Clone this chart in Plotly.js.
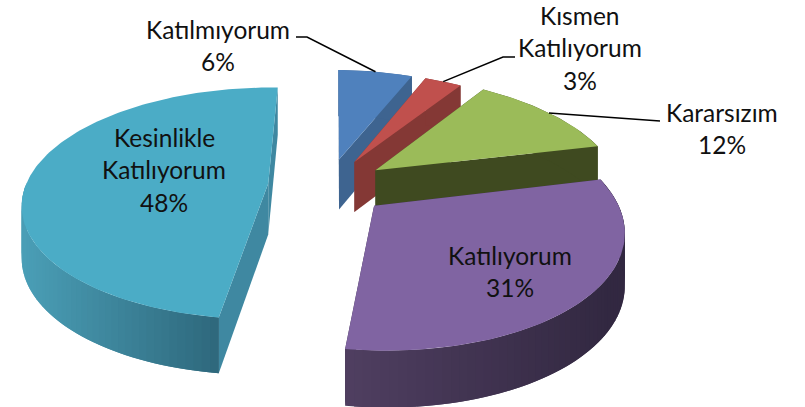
<!DOCTYPE html>
<html><head><meta charset="utf-8">
<script src="https://cdn.plot.ly/plotly-3.0.1.min.js"></script>
<style>html,body{margin:0;padding:0;background:#fff;overflow:hidden}#c{width:805px;height:407px}</style>
</head><body><div id="c"></div>
<script>
// data
const categories = ["Katılmıyorum","Kısmen Katılıyorum","Kararsızım","Katılıyorum","Kesinlikle Katılıyorum"];
const values = [6,3,12,31,48];
const topColors = ["#4F81BD","#C0504D","#9BBB59","#8064A2","#4BACC6"];
const wallColors = ["#3E6490","#843835","#3F4A20","#3A2E48","#3F88A1"];
const labelLines = [["Katılmıyorum"],["Kısmen","Katılıyorum"],["Kararsızım"],["Katılıyorum"],["Kesinlikle","Katılıyorum"]];

// view of the tilted pie plane
const view = {A:240,B:1,C:2.5,D:-113,p:0.004,q:0.17,cx:328,cy:186,explode:0.25,depth:51};
const rimScale = [1,1,1.035,1,1];
const labelPos = [[218,29],[580,15],[722,112],[510,255],[164,137]];
const lineStep = 32.5;
const elbows = [[[296,37],[307,37]],[[515,57],[503,57]],[[660,121]],null,null];
const wallShade = {3:{x0:342,x1:610,c0:[80,63,97],c1:[50,40,65]},4:{x0:25,x1:218,c0:[74,158,182],c1:[46,104,124]}};

const total = values.reduce((a,b)=>a+b,0);
let acc = 0;
const spans = values.map(v=>{const s=acc/total*2*Math.PI; acc+=v; return [s,acc/total*2*Math.PI];});

function project(i,theta,r,low){
  const b=(spans[i][0]+spans[i][1])/2, V=view, R=r*rimScale[i];
  const u=V.explode*Math.sin(b)+R*Math.sin(theta), v=V.explode*Math.cos(b)+R*Math.cos(theta);
  const w=1+V.p*u+V.q*v;
  return [V.cx+(V.A*u+V.B*v)/w, V.cy+(V.C*u+V.D*v)/w+(low?V.depth/Math.sqrt(w):0)];
}
function poly(pts,color){
  return {type:"scatter",mode:"lines",x:pts.map(p=>p[0]),y:pts.map(p=>p[1]),fill:"toself",fillcolor:color,
    line:{color:color,width:0},hoverinfo:"skip",showlegend:false};
}
function arc(i,t0,t1,low,n){
  const out=[]; for(let k=0;k<=n;k++) out.push(project(i,t0+(t1-t0)*k/n,1,low)); return out;
}
const traces=[];
[0,1,2,4,3].forEach(i=>{
  const [s,e]=spans[i];
  // radial walls
  [s,e].forEach(t=>{
    traces.push(poly([project(i,t,0,false),project(i,t,1,false),project(i,t,1,true),project(i,t,0,true)],wallColors[i]));
  });
  // rim wall: shaded front part, painted as overlapping bands so no seams show
  const shade=wallShade[i];
  const n=Math.max(4,Math.round((e-s)/0.03));
  if(shade){
    const colorAt=t=>{
      const x=project(i,t,1,false)[0];
      const f=Math.max(0,Math.min(1,(x-shade.x0)/(shade.x1-shade.x0)));
      return "rgb("+shade.c0.map((c,j)=>Math.round(c+(shade.c1[j]-c)*f)).join(",")+")";
    };
    const order=[]; for(let k=n-1;k>=0;k--) order.push(k);
    order.forEach(k=>{
      const a=s+(e-s)*k/n, b=s+(e-s)*(k+1)/n, a2=Math.max(s,a-(e-s)/n);
      const mid=(a+b)/2;
      if(i===4 && mid>1.5*Math.PI) return;
      traces.push(poly(arc(i,a2,b,false,2).concat(arc(i,b,a2,true,2)),colorAt(mid)));
    });
  } else {
    traces.push(poly(arc(i,s,e,false,n).concat(arc(i,e,s,true,n)),wallColors[i]));
  }
  // top surface
  const m=Math.max(6,Math.round((e-s)/0.02));
  traces.push(poly([project(i,0,0,false)].concat(arc(i,s,e,false,m)),topColors[i]));
});
// leader lines
elbows.forEach((el,i)=>{
  if(!el) return;
  const end=project(i,(spans[i][0]+spans[i][1])/2,1,false);
  const pts=el.concat([end]);
  traces.push({type:"scatter",mode:"lines",x:pts.map(p=>p[0]),y:pts.map(p=>p[1]),
    line:{color:"#000",width:1.5},hoverinfo:"skip",showlegend:false});
});
// labels
const annotations=[];
labelLines.forEach((lines,i)=>{
  lines.concat([Math.round(values[i]/total*100)+"%"]).forEach((t,k)=>{
    annotations.push({x:labelPos[i][0],y:labelPos[i][1]+k*lineStep,xref:"x",yref:"y",text:t,showarrow:false,
      xanchor:"center",yanchor:"middle",font:{family:"Lato, sans-serif",size:24.5,color:"#111"}});
  });
});
Plotly.newPlot("c",traces,{
  width:805,height:407,margin:{l:0,r:0,t:0,b:0},paper_bgcolor:"#fff",plot_bgcolor:"#fff",showlegend:false,
  xaxis:{range:[0,805],visible:false,fixedrange:true},
  yaxis:{range:[407,0],visible:false,fixedrange:true},
  annotations:annotations
},{displayModeBar:false,staticPlot:true});
</script></body></html>
